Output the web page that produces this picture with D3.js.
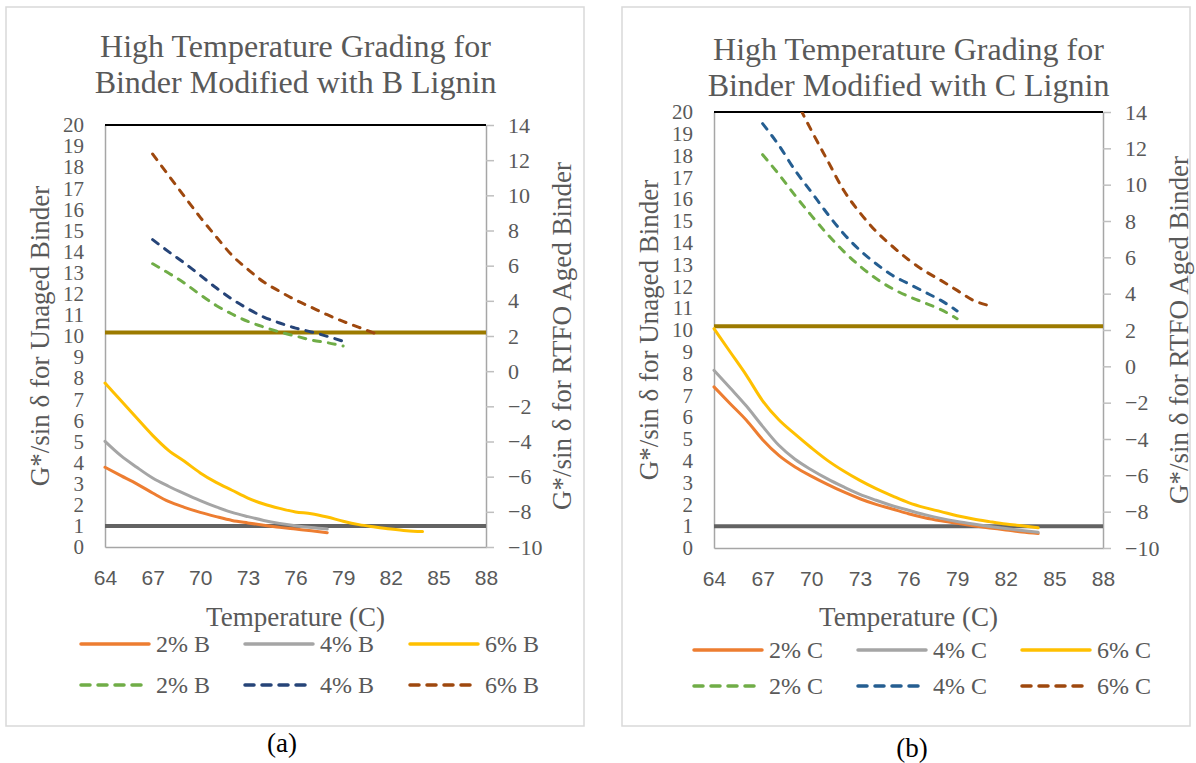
<!DOCTYPE html>
<html lang="en">
<head>
<meta charset="UTF-8">
<title>High Temperature Grading</title>
<script src="https://cdn.jsdelivr.net/npm/d3@7"></script>
<style>
  body { margin: 0; background: #fff; }
  svg text { font-family: "Liberation Serif", "Times New Roman", serif; fill: #595959; }
  .xaxis text { font-family: "Liberation Sans", Arial, sans-serif; }
</style>
</head>
<body>
<svg id="chart" width="1196" height="763"></svg>
<script>
// temperatures (C)
const tUnaged64to78 = [64, 65, 66, 67, 68, 69, 70, 71, 72, 73, 74, 75, 76, 77, 78];
const tUnaged64to84 = [64, 65, 66, 67, 68, 69, 70, 71, 72, 73, 74, 75, 76, 77, 78, 79, 80, 81, 82, 83, 84];
const tAged67to79 = [67, 68, 69, 70, 71, 72, 73, 74, 75, 76, 77, 78, 79];
const tAged67to81 = [67, 68, 69, 70, 71, 72, 73, 74, 75, 76, 77, 78, 79, 80, 81];

// B lignin, unaged binder (left axis)
const unagedB2 = [3.78, 3.38, 2.99, 2.56, 2.16, 1.88, 1.64, 1.44, 1.26, 1.14, 1.03, 0.93, 0.85, 0.77, 0.68];
const unagedB4 = [5.01, 4.33, 3.78, 3.27, 2.88, 2.53, 2.20, 1.90, 1.64, 1.44, 1.26, 1.12, 1.01, 0.92, 0.85];
const unagedB6 = [7.77, 6.94, 6.11, 5.29, 4.58, 4.06, 3.51, 3.06, 2.69, 2.32, 2.04, 1.83, 1.66, 1.58, 1.42, 1.22, 1.06, 0.95, 0.85, 0.77, 0.73];
// B lignin, RTFO aged binder (right axis)
const agedB2 = [6.11, 5.58, 5.01, 4.35, 3.74, 3.25, 2.83, 2.51, 2.23, 2.00, 1.77, 1.62, 1.43];
const agedB4 = [7.48, 6.80, 6.15, 5.45, 4.74, 4.10, 3.55, 3.08, 2.74, 2.45, 2.23, 1.98, 1.70];
const agedB6 = [12.35, 11.14, 9.94, 8.75, 7.65, 6.59, 5.79, 5.07, 4.54, 4.05, 3.63, 3.21, 2.83, 2.49, 2.15];

// C lignin, unaged binder (left axis)
const unagedC2 = [7.39, 6.62, 5.86, 4.97, 4.25, 3.72, 3.30, 2.92, 2.57, 2.26, 2.00, 1.79, 1.57, 1.39, 1.25, 1.13, 1.02, 0.92, 0.83, 0.73, 0.66];
const unagedC4 = [8.15, 7.34, 6.51, 5.58, 4.71, 4.07, 3.59, 3.17, 2.80, 2.46, 2.19, 1.94, 1.73, 1.53, 1.36, 1.22, 1.10, 0.99, 0.89, 0.80, 0.72];
const unagedC6 = [10.06, 8.99, 7.92, 6.75, 5.88, 5.22, 4.60, 4.02, 3.53, 3.10, 2.72, 2.39, 2.08, 1.85, 1.67, 1.48, 1.33, 1.21, 1.10, 1.02, 0.93];
// C lignin, RTFO aged binder (right axis)
const agedC2 = [11.65, 10.57, 9.41, 8.31, 7.27, 6.33, 5.52, 4.83, 4.28, 3.85, 3.49, 3.12, 2.62];
const agedC4 = [13.36, 12.17, 10.79, 9.60, 8.40, 7.30, 6.39, 5.65, 5.01, 4.55, 4.09, 3.63, 3.05];
const agedC6 = [19.5, 17.0, 14.8, 13.0, 11.34, 9.69, 8.46, 7.43, 6.61, 5.87, 5.25, 4.73, 4.18, 3.63, 3.34];

// specification limits
const specUnaged = 1.0;   // left axis
const specAged = 2.2;     // right axis

// axes
const xTicks = [64, 67, 70, 73, 76, 79, 82, 85, 88];
const leftTicks = [0, 1, 2, 3, 4, 5, 6, 7, 8, 9, 10, 11, 12, 13, 14, 15, 16, 17, 18, 19, 20];
const rightTicks = [-10, -8, -6, -4, -2, 0, 2, 4, 6, 8, 10, 12, 14];

const colors = {
  c2: "#ED7D31", c4: "#A5A5A5", c6: "#FFC000",
  a2: "#70AD47", a6: "#9E480E",
  gold: "#9C7A00", gray: "#636363"
};

const svg = d3.select("#chart");

function drawPanel(p) {
  const g = svg.append("g");

  // panel frame
  g.append("rect")
    .attr("x", p.frame[0]).attr("y", p.frame[1])
    .attr("width", p.frame[2]).attr("height", p.frame[3])
    .attr("fill", "none").attr("stroke", "#d9d9d9").attr("stroke-width", 1.5);

  const x = d3.scaleLinear().domain([64, 88]).range([p.x0, p.x1]);
  const yL = d3.scaleLinear().domain([0, 20]).range([p.yB, p.yT]);
  const yR = d3.scaleLinear().domain([-10, 14]).range([p.yB, p.yT]);

  // title
  p.title.forEach((t, i) => {
    g.append("text").attr("x", (p.x0 + p.x1) / 2).attr("y", p.titleY[i])
      .attr("text-anchor", "middle").style("font-size", "32px").text(t);
  });

  // axes
  const ax = g.append("g").attr("class", "xaxis")
    .attr("transform", "translate(0," + p.yB + ")")
    .call(d3.axisBottom(x).tickValues(xTicks).tickSize(0).tickSizeOuter(0));
  ax.selectAll("text").attr("y", 31).attr("dy", "0.35em").style("font-size", "21px");

  const al = g.append("g").attr("transform", "translate(" + p.x0 + ",0)")
    .call(d3.axisLeft(yL).tickValues(leftTicks).tickSize(0).tickSizeOuter(0).tickPadding(21));
  al.selectAll("text").style("font-size", "21px");

  const ar = g.append("g").attr("transform", "translate(" + p.x1 + ",0)")
    .call(d3.axisRight(yR).tickValues(rightTicks).tickSize(8).tickSizeOuter(0).tickPadding(14));
  ar.selectAll("text").style("font-size", "22px");

  [ax, al, ar].forEach(a => {
    a.select(".domain").attr("stroke", "#a6a6a6").attr("stroke-width", 1.5);
    a.selectAll(".tick line").attr("stroke", "#bfbfbf").attr("stroke-width", 1.5);
  });

  // top border line
  g.append("line").attr("x1", p.x0).attr("x2", p.x1)
    .attr("y1", yL(20)).attr("y2", yL(20))
    .attr("stroke", "#000").attr("stroke-width", 2);

  // axis titles
  g.append("text").attr("x", (p.x0 + p.x1) / 2).attr("y", 617)
    .attr("text-anchor", "middle").attr("dy", "0.35em")
    .style("font-size", "27px").text("Temperature (C)");
  g.append("text")
    .attr("transform", "translate(" + (p.x0 - 65) + "," + (p.yT + p.yB) / 2 + ") rotate(-90)")
    .attr("text-anchor", "middle").attr("dy", "0.35em")
    .style("font-size", "27px").text("G*/sin δ for Unaged Binder");
  g.append("text")
    .attr("transform", "translate(" + (p.x1 + 76) + "," + (p.yT + p.yB) / 2 + ") rotate(-90)")
    .attr("text-anchor", "middle").attr("dy", "0.35em")
    .style("font-size", "27px").text("G*/sin δ for RTFO Aged Binder");

  const clipId = "clip" + p.id;
  svg.append("clipPath").attr("id", clipId).append("rect")
    .attr("x", p.x0 - 2).attr("y", p.yT).attr("width", p.x1 - p.x0 + 6).attr("height", p.yB - p.yT);
  const plot = g.append("g").attr("clip-path", "url(#" + clipId + ")");

  // spec lines
  plot.append("line").attr("x1", x(64)).attr("x2", x(88))
    .attr("y1", yR(specAged)).attr("y2", yR(specAged))
    .attr("stroke", colors.gold).attr("stroke-width", 4);
  plot.append("line").attr("x1", x(64)).attr("x2", x(88))
    .attr("y1", yL(specUnaged)).attr("y2", yL(specUnaged))
    .attr("stroke", colors.gray).attr("stroke-width", 4);

  // data lines
  p.series.forEach(s => {
    const y = s.axis === "right" ? yR : yL;
    const pts = s.temps.map((t, i) => [t, s.values[i]]);
    const line = d3.line().x(d => x(d[0])).y(d => y(d[1])).curve(d3.curveMonotoneX);
    plot.append("path").datum(pts)
      .attr("d", line)
      .attr("fill", "none")
      .attr("stroke", s.color)
      .attr("stroke-width", 3)
      .attr("stroke-linecap", "round")
      .attr("stroke-dasharray", s.dashed ? "7,8" : null);
  });

  // legend
  p.series.forEach((s, i) => {
    const lx = p.legendX[i % 3];
    const ly = p.legendY[Math.floor(i / 3)];
    g.append("line").attr("x1", lx).attr("x2", lx + 68).attr("y1", ly).attr("y2", ly)
      .attr("stroke", s.color).attr("stroke-width", 3.5).attr("stroke-linecap", "round")
      .attr("stroke-dasharray", s.dashed ? "9,8" : null);
    g.append("text").attr("x", lx + 75).attr("y", ly).attr("dy", "0.35em")
      .style("font-size", "24px").text(s.label);
  });

  // caption
  svg.append("text").attr("x", p.caption[0]).attr("y", p.caption[1])
    .attr("text-anchor", "middle").style("font-size", "27px").style("fill", "#000")
    .text(p.captionText);
}

drawPanel({
  id: "a",
  frame: [6, 7, 578, 719],
  x0: 105, x1: 486, yT: 125, yB: 547,
  title: ["High Temperature Grading for", "Binder Modified with B Lignin"],
  titleY: [57, 93],
  legendX: [81, 245, 410],
  legendY: [644, 685],
  caption: [282, 752], captionText: "(a)",
  series: [
    { label: "2% B", temps: tUnaged64to78, values: unagedB2, color: colors.c2, axis: "left" },
    { label: "4% B", temps: tUnaged64to78, values: unagedB4, color: colors.c4, axis: "left" },
    { label: "6% B", temps: tUnaged64to84, values: unagedB6, color: colors.c6, axis: "left" },
    { label: "2% B", temps: tAged67to79, values: agedB2, color: colors.a2, axis: "right", dashed: true },
    { label: "4% B", temps: tAged67to79, values: agedB4, color: "#264478", axis: "right", dashed: true },
    { label: "6% B", temps: tAged67to81, values: agedB6, color: colors.a6, axis: "right", dashed: true }
  ]
});

drawPanel({
  id: "b",
  frame: [622, 7, 568, 719],
  x0: 714, x1: 1103, yT: 112, yB: 548,
  title: ["High Temperature Grading for", "Binder Modified with C Lignin"],
  titleY: [60, 96],
  legendX: [694, 858, 1022],
  legendY: [650, 686],
  caption: [912, 757], captionText: "(b)",
  series: [
    { label: "2% C", temps: tUnaged64to84, values: unagedC2, color: colors.c2, axis: "left" },
    { label: "4% C", temps: tUnaged64to84, values: unagedC4, color: colors.c4, axis: "left" },
    { label: "6% C", temps: tUnaged64to84, values: unagedC6, color: colors.c6, axis: "left" },
    { label: "2% C", temps: tAged67to79, values: agedC2, color: colors.a2, axis: "right", dashed: true },
    { label: "4% C", temps: tAged67to79, values: agedC4, color: "#255E91", axis: "right", dashed: true },
    { label: "6% C", temps: tAged67to81, values: agedC6, color: colors.a6, axis: "right", dashed: true }
  ]
});
</script>
</body>
</html>
